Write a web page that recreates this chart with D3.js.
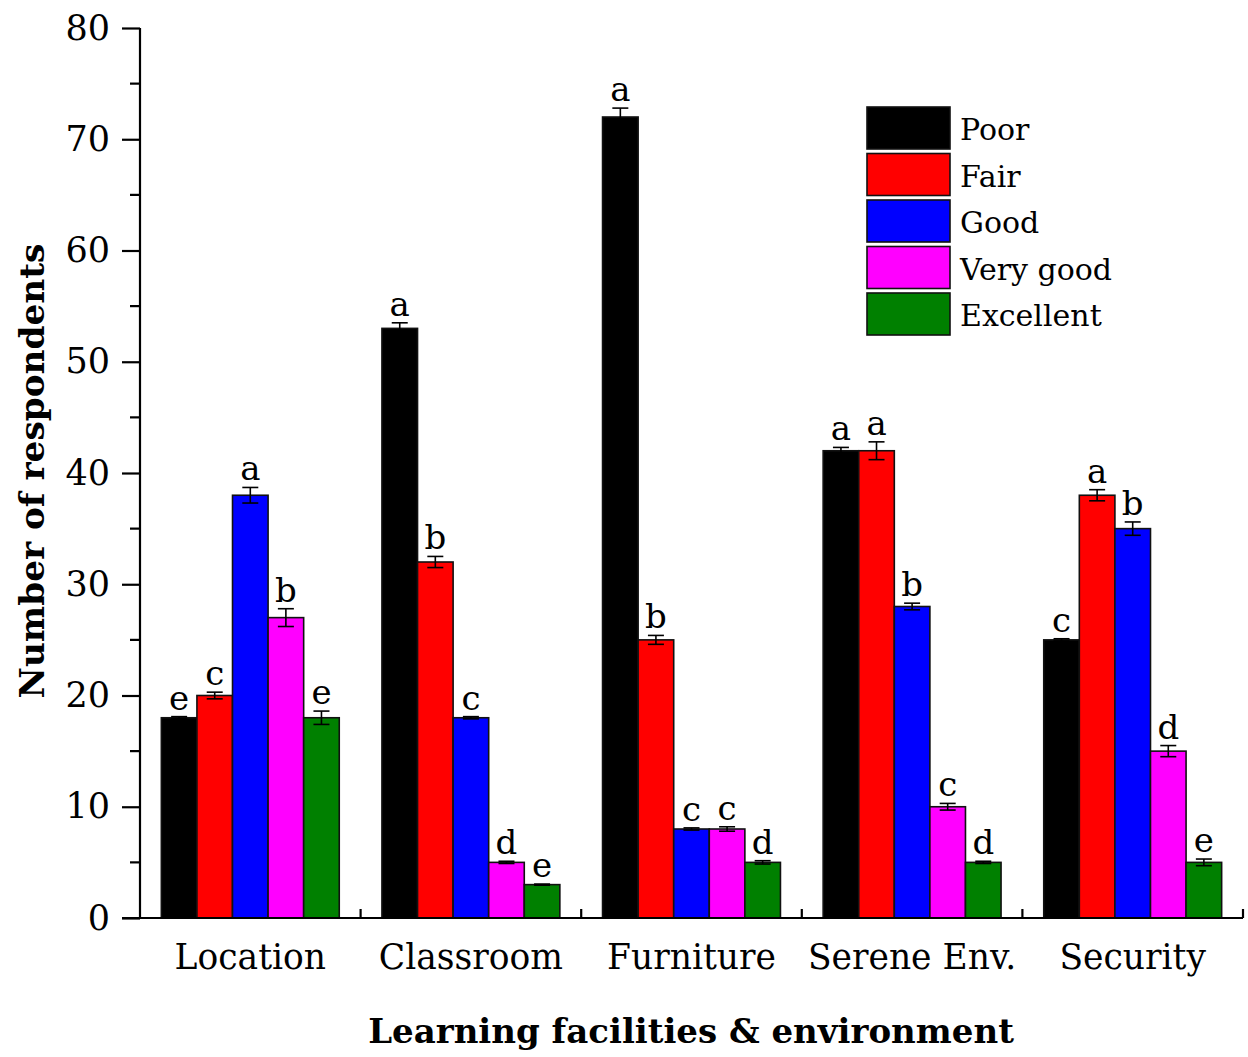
<!DOCTYPE html>
<html><head><meta charset="utf-8">
<script src="https://cdn.jsdelivr.net/npm/d3@7"></script>
<style>
body{margin:0;background:#fff;}
svg text{font-family:"DejaVu Serif","Liberation Serif",serif;fill:#000;}
</style></head>
<body><svg id="viz" width="1248" height="1057"></svg>
<script>
const categories = ["Location","Classroom","Furniture","Serene Env.","Security"];
const seriesNames = ["Poor","Fair","Good","Very good","Excellent"];
const seriesColors = ["#000000","#ff0000","#0000ff","#ff00ff","#008000"];
// values per category, in series order
const values = [
  [18,20,38,27,18],
  [53,32,18,5,3],
  [72,25,8,8,5],
  [42,42,28,10,5],
  [25,38,35,15,5]
];
const errors = [
  [0.1,0.3,0.7,0.8,0.6],
  [0.5,0.5,0.1,0.1,0.05],
  [0.8,0.4,0.1,0.2,0.15],
  [0.3,0.8,0.3,0.3,0.1],
  [0.1,0.5,0.6,0.5,0.3]
];
const letters = [
  ["e","c","a","b","e"],
  ["a","b","c","d","e"],
  ["a","b","c","c","d"],
  ["a","a","b","c","d"],
  ["c","a","b","d","e"]
];
const yTicks = [0,10,20,30,40,50,60,70,80];

const svg = d3.select("#viz");
const m = {left:140, right:1243, top:28, bottom:918};
const x = d3.scaleBand().domain(categories).range([m.left,m.right]).paddingInner(0).paddingOuter(0);
const xs = d3.scaleBand().domain(seriesNames).range([0,x.bandwidth()]).paddingInner(0).paddingOuter(0.6);
const y = d3.scaleLinear().domain([0,80]).range([m.bottom,m.top]);

const rows = [];
categories.forEach((c,i)=>seriesNames.forEach((s,j)=>rows.push({c,s,j,v:values[i][j],e:errors[i][j],l:letters[i][j]})));

// bars
svg.append("g").selectAll("rect").data(rows).join("rect")
  .attr("x",d=>x(d.c)+xs(d.s)).attr("width",xs.bandwidth())
  .attr("y",d=>y(d.v)).attr("height",d=>y(0)-y(d.v))
  .attr("fill",d=>seriesColors[d.j]).attr("stroke","#111").attr("stroke-width",1.6);

// error bars
const eg = svg.append("g").attr("stroke","#000").attr("stroke-width",1.6);
rows.forEach(d=>{
  const cx = x(d.c)+xs(d.s)+xs.bandwidth()/2, w=8;
  eg.append("line").attr("x1",cx).attr("x2",cx).attr("y1",y(d.v+d.e)).attr("y2",y(d.v-d.e));
  eg.append("line").attr("x1",cx-w).attr("x2",cx+w).attr("y1",y(d.v+d.e)).attr("y2",y(d.v+d.e));
  eg.append("line").attr("x1",cx-w).attr("x2",cx+w).attr("y1",y(d.v-d.e)).attr("y2",y(d.v-d.e));
});

// significance letters
svg.append("g").selectAll("text").data(rows).join("text")
  .attr("x",d=>x(d.c)+xs(d.s)+xs.bandwidth()/2).attr("y",d=>y(d.v+d.e)-7)
  .attr("text-anchor","middle").attr("font-size",34).text(d=>d.l);

// y axis
const yAxis = d3.axisLeft(y).tickValues(yTicks).tickSize(18).tickPadding(12).tickFormat(d3.format("d"));
const ya = svg.append("g").attr("transform",`translate(${m.left},0)`).call(yAxis);
ya.select(".domain").attr("stroke-width",2.2).attr("d",`M-0,${m.bottom}V${m.top}`);
ya.selectAll(".tick line").attr("stroke-width",2.2);
ya.selectAll(".tick text").attr("font-size",35).attr("font-family","DejaVu Serif");
const minor = d3.range(5,80,10);
ya.selectAll(".minor").data(minor).join("line").attr("class","minor")
  .attr("x1",-10).attr("x2",0).attr("y1",d=>y(d)).attr("y2",d=>y(d)).attr("stroke","#000").attr("stroke-width",2.2);

// x axis
const xa = svg.append("g").attr("transform",`translate(0,${m.bottom})`);
xa.append("line").attr("x1",m.left-18).attr("x2",m.right).attr("y1",0).attr("y2",0).attr("stroke","#000").attr("stroke-width",2.2);
const bounds = categories.map(c=>x(c)).concat([m.right]).slice(1);
xa.selectAll(".xt").data(bounds).join("line").attr("class","xt")
  .attr("x1",d=>d).attr("x2",d=>d).attr("y1",0).attr("y2",-9).attr("stroke","#000").attr("stroke-width",2.2);
xa.selectAll(".xl").data(categories).join("text").attr("class","xl")
  .attr("x",d=>x(d)+x.bandwidth()/2).attr("y",51).attr("text-anchor","middle")
  .attr("font-size",34.5).text(d=>d);

// axis titles
svg.append("text").attr("x",691).attr("y",1043).attr("text-anchor","middle")
  .attr("font-size",34).attr("font-weight","bold").text("Learning facilities & environment");
svg.append("text").attr("transform","translate(44,471) rotate(-90)").attr("text-anchor","middle")
  .attr("font-size",34.3).attr("font-weight","bold").text("Number of respondents");

// legend
const lg = svg.append("g").attr("transform","translate(867,107)");
seriesNames.forEach((s,i)=>{
  const g = lg.append("g").attr("transform",`translate(0,${i*46.5})`);
  g.append("rect").attr("width",83).attr("height",42).attr("fill",seriesColors[i]).attr("stroke","#111").attr("stroke-width",1.6);
  g.append("text").attr("x",93).attr("y",33).attr("font-size",30).text(s);
});
</script></body></html>
